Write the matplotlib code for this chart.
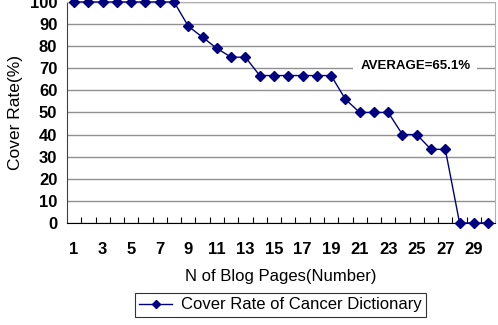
import matplotlib
matplotlib.use("Agg")
import matplotlib.pyplot as plt
import numpy as np

pages = list(range(1, 31))
cover_rate = [100, 100, 100, 100, 100, 100, 100, 100, 89, 84, 79, 75, 75,
              66.7, 66.7, 66.7, 66.7, 66.7, 66.7, 56, 50, 50, 50, 40, 40,
              33.3, 33.3, 0, 0, 0]
xtick_labels = [str(i) for i in range(1, 30, 2)]
yticks = list(range(0, 101, 10))
average_text = "AVERAGE=65.1%"
series_name = "Cover Rate of Cancer Dictionary"

plt.rcParams['font.family'] = ['Liberation Sans', 'DejaVu Sans']

fig = plt.figure(figsize=(4.98, 3.25), dpi=100)
ax = fig.add_axes([0.1345, 0.314, 0.86, 0.68])

navy = '#000080'
ax.plot(pages, cover_rate, color=navy, lw=1.0, marker='D', ms=5,
        markerfacecolor=navy, markeredgecolor=navy, label=series_name,
        clip_on=False, zorder=3)

ax.set_xlim(0.5, 30.5)
ax.set_ylim(0, 100)
ax.set_yticks(yticks)
ax.set_yticklabels([str(v) for v in yticks], fontsize=12, fontweight='bold')
ax.set_xticks(list(range(1, 30, 2)))
ax.set_xticklabels(xtick_labels, fontsize=12, fontweight='bold')
ax.set_xticks(np.arange(1.5, 30.5, 1), minor=True)
ax.tick_params(axis='x', which='major', length=0, pad=14)
ax.tick_params(axis='x', which='minor', length=4, direction='in', color='black', width=0.8)
ax.tick_params(axis='y', length=0, pad=7)

ax.grid(axis='y', color='#909090', lw=1.0)
ax.set_axisbelow(True)
for s in ['top', 'right']:
    ax.spines[s].set_color('#b0b0b0')
ax.spines['left'].set_color('#404040')
ax.spines['bottom'].set_color('black')

ax.set_ylabel('Cover Rate(%)', fontsize=12.5, labelpad=5)
ax.set_xlabel('N of Blog Pages(Number)', fontsize=12, labelpad=8)

ax.text(24.9, 69.8, average_text, fontsize=9.5, fontweight='bold',
        ha='center', va='baseline',
        bbox=dict(facecolor='white', edgecolor='none', pad=5), zorder=4)

leg = fig.legend(loc='center', bbox_to_anchor=(0.563, 0.062), fontsize=12,
                 frameon=True, fancybox=False, edgecolor='black',
                 handlelength=2.0, handletextpad=0.5, borderpad=0.25,
                 markerscale=0.8)
leg.get_frame().set_linewidth(0.8)

fig.savefig('out.png', dpi=100)
